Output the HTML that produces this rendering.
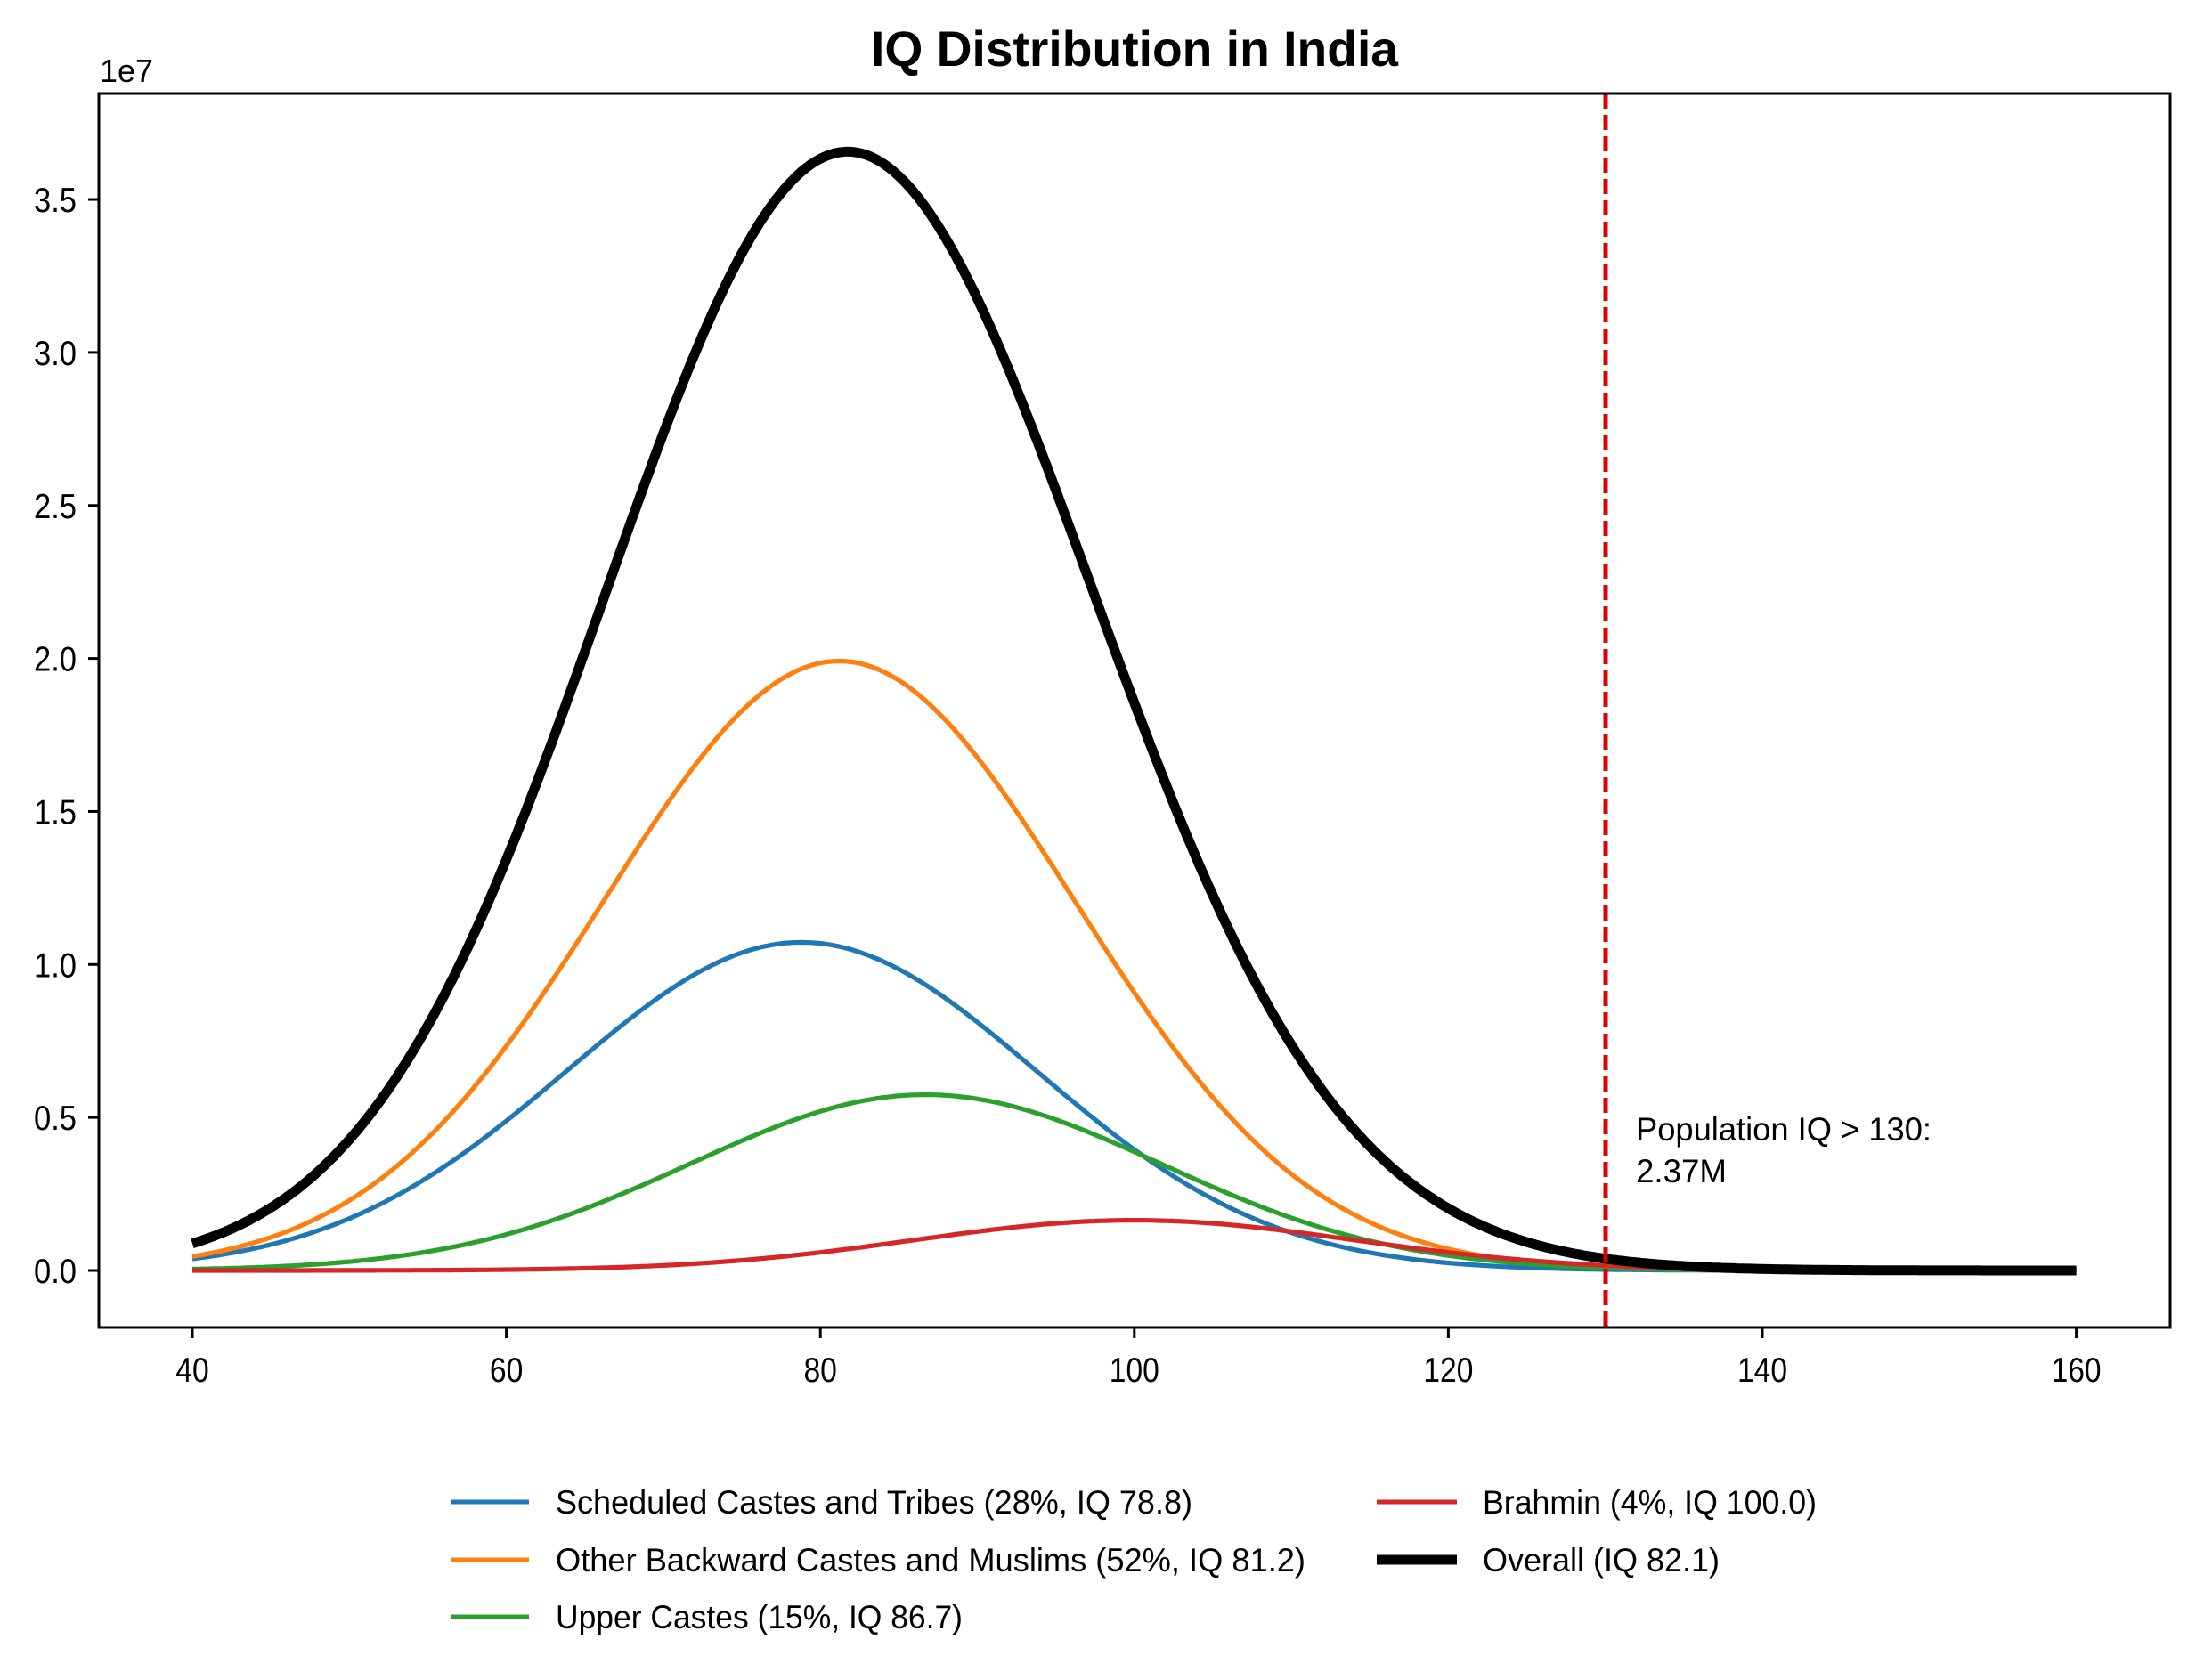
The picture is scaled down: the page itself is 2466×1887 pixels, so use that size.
<!DOCTYPE html>
<html><head><meta charset="utf-8"><style>html,body{margin:0;padding:0;background:#fff}svg{display:block}</style></head>
<body>
<svg id="s" width="2466" height="1887" xmlns="http://www.w3.org/2000/svg" font-family="Liberation Sans, sans-serif">
<rect width="2466" height="1887" fill="#fff"/>
<g id="curves"></g>
<line x1="1803" y1="105" x2="1803" y2="1491" stroke="#e00000" stroke-width="5" stroke-dasharray="17,7"/>
<rect x="111" y="105" width="2326" height="1386" fill="none" stroke="#000" stroke-width="3"/>
<g id="ticks"></g>
<text x="1274" y="74" font-size="56" font-weight="bold" text-anchor="middle" textLength="592" lengthAdjust="spacingAndGlyphs">IQ Distribution in India</text>
<text x="112" y="92" font-size="36" textLength="60" lengthAdjust="spacingAndGlyphs">1e7</text>
<text x="1837" y="1281" font-size="37" textLength="332" lengthAdjust="spacingAndGlyphs">Population IQ &gt; 130:</text>
<text x="1837" y="1328" font-size="37" textLength="102" lengthAdjust="spacingAndGlyphs">2.37M</text>
<g font-size="37">
<line x1="506" y1="1687" x2="594" y2="1687" stroke="#1f77b4" stroke-width="5"/>
<text x="624" y="1700" textLength="715" lengthAdjust="spacingAndGlyphs">Scheduled Castes and Tribes (28%, IQ 78.8)</text>
<line x1="506" y1="1752" x2="594" y2="1752" stroke="#ff7f0e" stroke-width="5"/>
<text x="624" y="1765" textLength="842" lengthAdjust="spacingAndGlyphs">Other Backward Castes and Muslims (52%, IQ 81.2)</text>
<line x1="506" y1="1816" x2="594" y2="1816" stroke="#2ca02c" stroke-width="5"/>
<text x="624" y="1829" textLength="457" lengthAdjust="spacingAndGlyphs">Upper Castes (15%, IQ 86.7)</text>
<line x1="1546" y1="1687" x2="1636" y2="1687" stroke="#d62728" stroke-width="5"/>
<text x="1665" y="1700" textLength="375" lengthAdjust="spacingAndGlyphs">Brahmin (4%, IQ 100.0)</text>
<line x1="1546" y1="1752" x2="1636" y2="1752" stroke="#000" stroke-width="11"/>
<text x="1665" y="1765" textLength="266" lengthAdjust="spacingAndGlyphs">Overall (IQ 82.1)</text>
</g>
</svg>
<script>
(function(){
var NS="http://www.w3.org/2000/svg";
function X(v){return 216+(v-40)*17.63;}
function Y(v){return 1427-v/1e7*343.7;}
function pdf(x,m,s){return Math.exp(-(x-m)*(x-m)/(2*s*s))/(s*Math.sqrt(2*Math.PI));}
var N=1.44e9;
var g=[[0.28,78.8,15,"#1f77b4"],[0.52,81.2,15,"#ff7f0e"],[0.15,86.7,15,"#2ca02c"],[0.04,100,14,"#d62728"]];
var cg=document.getElementById("curves");
var paths=g.map(function(){return "";}),tot="";
for(var i=0;i<=600;i++){
  var x=40+i*0.2,sum=0;
  g.forEach(function(p,k){var y=N*p[0]*pdf(x,p[1],p[2]);sum+=y;paths[k]+=(i?"L":"M")+X(x).toFixed(1)+","+Y(y).toFixed(1);});
  tot+=(i?"L":"M")+X(x).toFixed(1)+","+Y(sum).toFixed(1);
}
function mk(d,c,w){var p=document.createElementNS(NS,"path");p.setAttribute("d",d);p.setAttribute("fill","none");p.setAttribute("stroke",c);p.setAttribute("stroke-width",w);p.setAttribute("stroke-linejoin","round");cg.appendChild(p);}
g.forEach(function(p,k){mk(paths[k],p[3],5.2);});
mk(tot,"#000",11);
var tg=document.getElementById("ticks");
function ln(x1,y1,x2,y2){var l=document.createElementNS(NS,"line");l.setAttribute("x1",x1);l.setAttribute("y1",y1);l.setAttribute("x2",x2);l.setAttribute("y2",y2);l.setAttribute("stroke","#000");l.setAttribute("stroke-width",3);tg.appendChild(l);}
function tx(x,y,s,anchor,len){var t=document.createElementNS(NS,"text");t.setAttribute("x",x);t.setAttribute("y",y);t.setAttribute("font-size",39);t.setAttribute("text-anchor",anchor);t.setAttribute("textLength",len);t.setAttribute("lengthAdjust","spacingAndGlyphs");t.textContent=s;tg.appendChild(t);}
for(var v=40;v<=160;v+=20){var xx=X(v);ln(xx,1491,xx,1503);tx(xx,1552,String(v),"middle",v>=100?56:37.5);}
for(var k=0;k<=7;k++){var yy=Y(k*0.5e7);ln(111,yy,99,yy);tx(86,yy+14,(k*0.5).toFixed(1),"end",48);}
})();
</script>
</body></html>
